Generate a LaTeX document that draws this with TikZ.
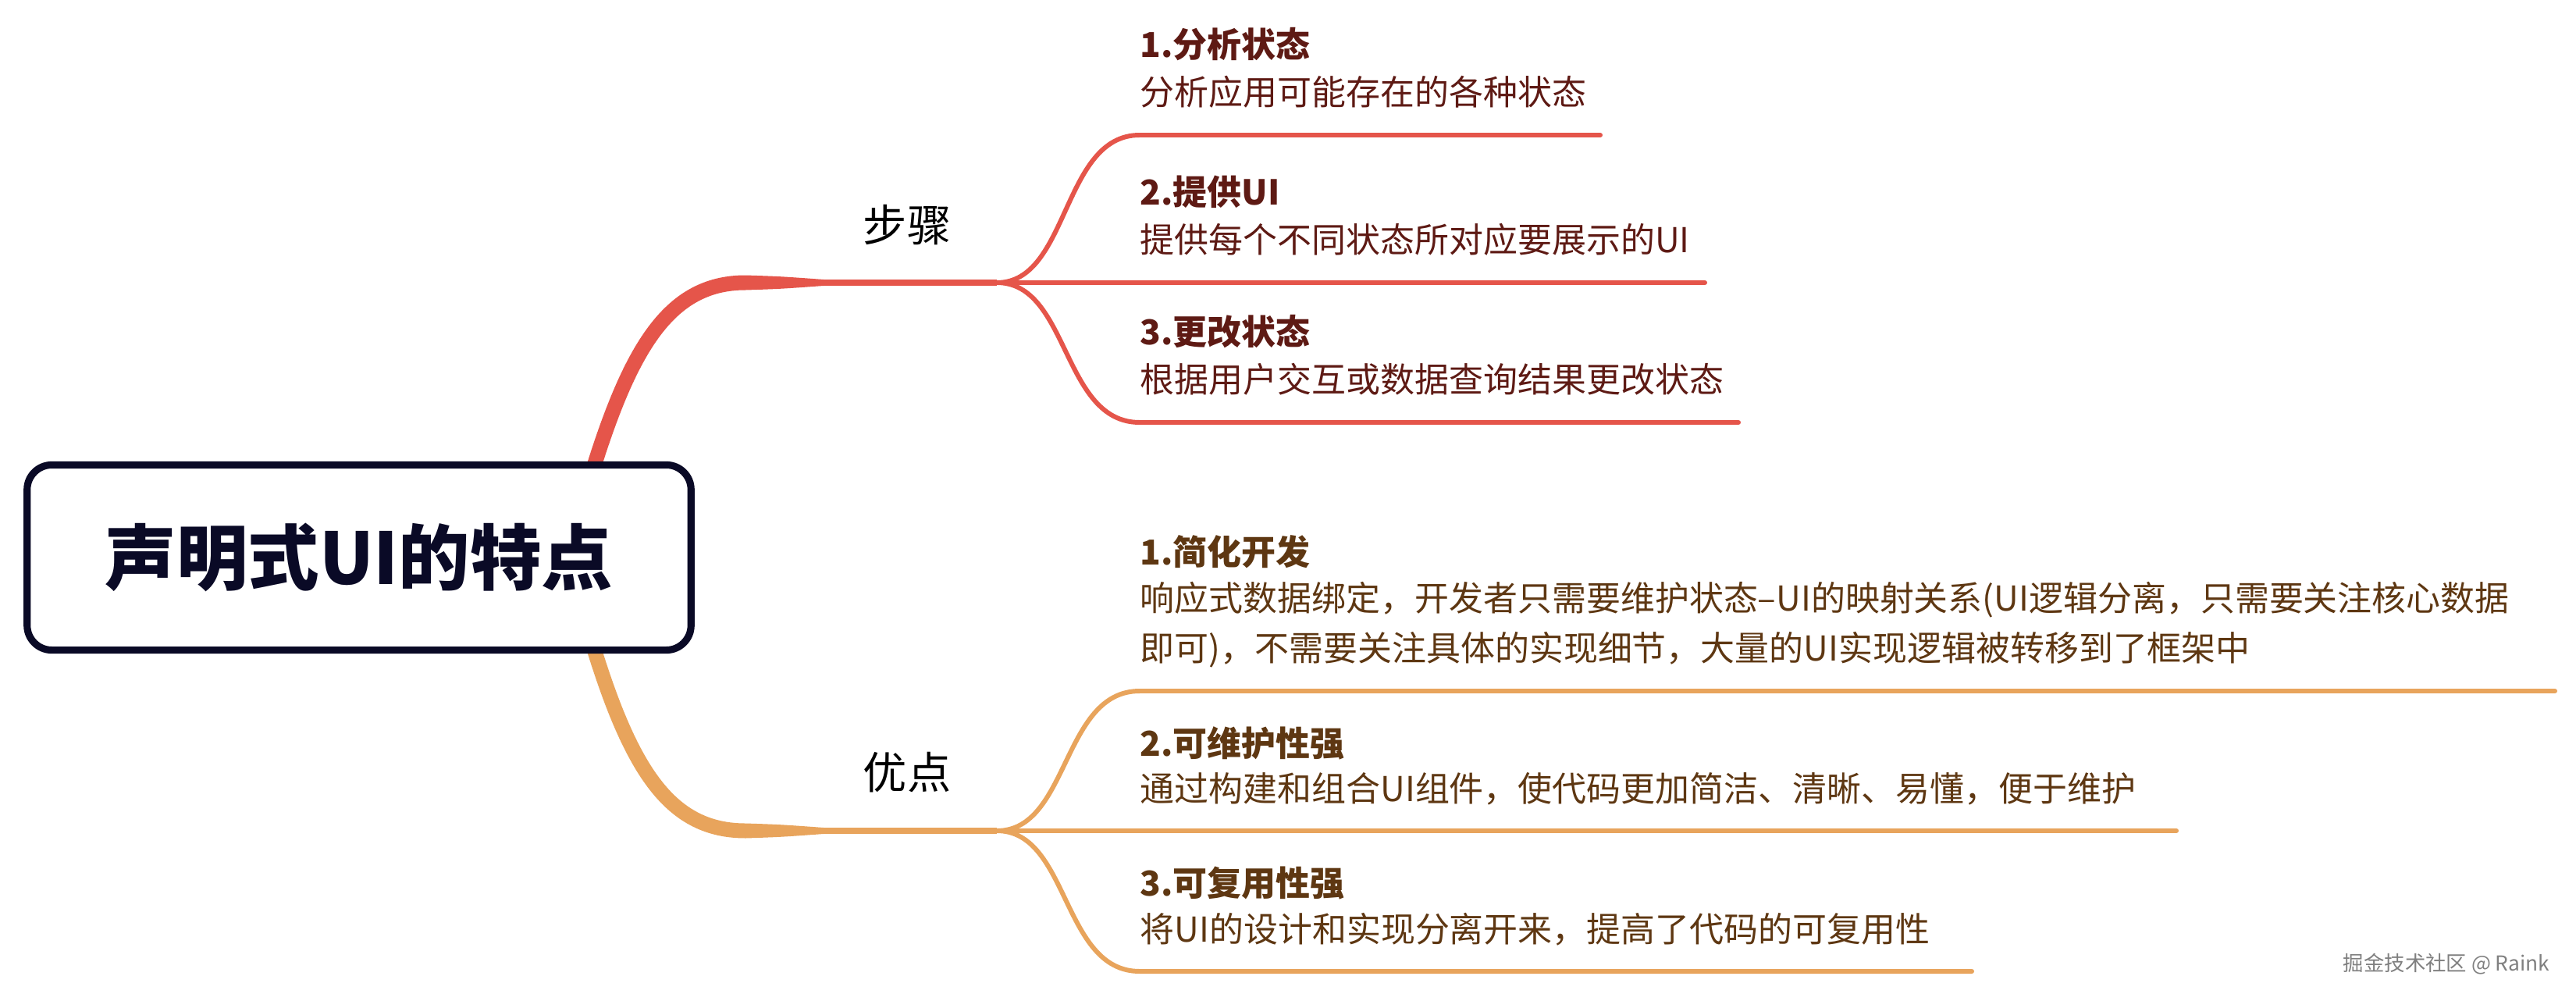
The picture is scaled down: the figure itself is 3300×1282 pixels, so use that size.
\documentclass[tikz,border=0pt]{standalone}
\usepackage{fontspec}
\setmainfont{Noto Sans CJK SC}
\usepackage{xcolor}
\usepackage{tikz}
\usetikzlibrary{positioning, calc}
\definecolor{kred}{HTML}{E5554A}
\definecolor{korange}{HTML}{E8A45C}
\definecolor{kredtext}{HTML}{5E1A14}
\definecolor{kbrowntext}{HTML}{5E3712}
\definecolor{knavy}{HTML}{0A0A26}

\begin{document}
\begin{tikzpicture}[x=0.01cm, y=-0.01cm,
  itemhead/.style={anchor=west, inner sep=0pt, font=\fontsize{12.5}{15}\selectfont\bfseries},
  itemtext/.style={anchor=west, inner sep=0pt, align=left, font=\fontsize{12.5}{18.2}\selectfont},
  subline/.style={line width=1.7pt, line cap=round}]
\useasboundingbox (0,0) rectangle (3300,1282);
\fill[white] (0,0) rectangle (3300,1282);
% forks and branch labels
\coordinate (fork1) at (1277,362);
\coordinate (fork2) at (1277,1064);
\node[font=\fontsize{16}{18}\selectfont] (steps) at (1162,288) {步骤};
\node[font=\fontsize{16}{18}\selectfont] (pros) at (1162,989) {优点};
% main branches
\draw[kred, line width=5.4pt] (760,630) -- (760,600) .. controls (810,440) and (860,362) .. (955,362);
\fill[kred] (955,352.5) .. controls (1000,354) .. (1055,358) -- (1055,366) .. controls (1000,370) .. (955,371.5) -- cycle;
\draw[kred, line width=2.3pt] (1050,362) -- (fork1);
\draw[korange, line width=5.4pt] (760,800) -- (760,828) .. controls (810,990) and (860,1064) .. (955,1064);
\fill[korange] (955,1054.5) .. controls (1000,1056) .. (1055,1060) -- (1055,1068) .. controls (1000,1072) .. (955,1073.5) -- cycle;
\draw[korange, line width=2.3pt] (1050,1064) -- (fork2);
% root
\node[draw=knavy, line width=2.6pt, fill=white, rounded corners=9pt, minimum width=8.5cm, minimum height=2.37cm,
  font=\fontsize{26}{30}\selectfont\bfseries, text=knavy] (root) at (460,714) {声明式UI的特点};
% upper items
\draw[kred, subline] (fork1) .. controls (1370,362) and (1360,173) .. (1460,173) -- (2050,173);
\draw[kred, subline] (fork1) -- (2184,362);
\draw[kred, subline] (fork1) .. controls (1370,362) and (1360,541) .. (1460,541) -- (2227,541);
\node[itemhead, text=kredtext] (s1h) at (1460,57) {1.分析状态};
\node[itemtext, text=kredtext] (s1t) at (1460,118) {分析应用可能存在的各种状态};
\node[itemhead, text=kredtext] (s2h) at (1460,246) {2.提供UI};
\node[itemtext, text=kredtext] (s2t) at (1460,307) {提供每个不同状态所对应要展示的UI};
\node[itemhead, text=kredtext] (s3h) at (1460,425) {3.更改状态};
\node[itemtext, text=kredtext] (s3t) at (1460,486) {根据用户交互或数据查询结果更改状态};
% lower items
\draw[korange, subline] (fork2) .. controls (1370,1064) and (1360,885) .. (1460,885) -- (3273,885);
\draw[korange, subline] (fork2) -- (2788,1064);
\draw[korange, subline] (fork2) .. controls (1370,1064) and (1360,1244) .. (1460,1244) -- (2526,1244);
\node[itemhead, text=kbrowntext] (p1h) at (1460,707) {1.简化开发};
\node[itemtext, text=kbrowntext] (p1t) at (1460,800) {响应式数据绑定，开发者只需要维护状态–UI的映射关系(UI逻辑分离，只需要关注核心数据\\即可)，不需要关注具体的实现细节，大量的UI实现逻辑被转移到了框架中};
\node[itemhead, text=kbrowntext] (p2h) at (1460,952) {2.可维护性强};
\node[itemtext, text=kbrowntext] (p2t) at (1460,1010) {通过构建和组合UI组件，使代码更加简洁、清晰、易懂，便于维护};
\node[itemhead, text=kbrowntext] (p3h) at (1460,1131) {3.可复用性强};
\node[itemtext, text=kbrowntext] (p3t) at (1460,1190) {将UI的设计和实现分离开来，提高了代码的可复用性};
% watermark
\node[anchor=east, inner sep=0pt, font=\fontsize{7.5}{9}\selectfont, text=black!50] (mark) at (3267,1235) {掘金技术社区 @ Raink};
\end{tikzpicture}
\end{document}
